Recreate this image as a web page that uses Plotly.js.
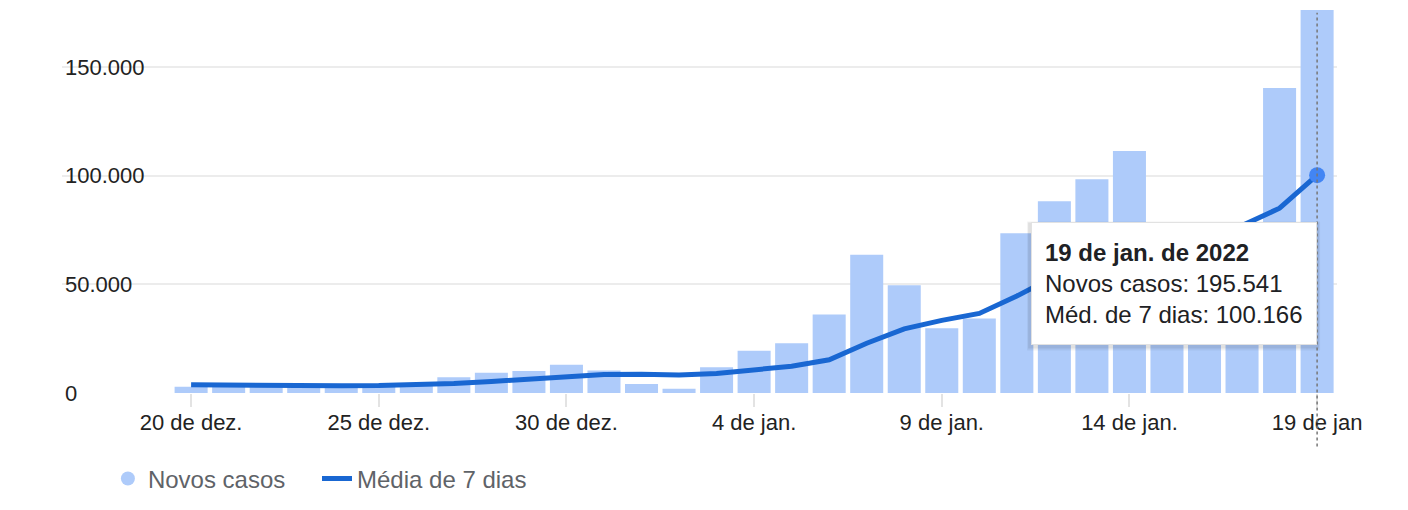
<!DOCTYPE html>
<html>
<head>
<meta charset="utf-8">
<script src="https://cdn.plot.ly/plotly-3.0.1.min.js"></script>
<style>
  html, body { margin: 0; padding: 0; background: #fff; }
  #chart { width: 1408px; height: 510px; }
</style>
</head>
<body>
<div id="chart"></div>
<script>
// ---- data ----
const dates = [
  '2021-12-20','2021-12-21','2021-12-22','2021-12-23','2021-12-24','2021-12-25','2021-12-26',
  '2021-12-27','2021-12-28','2021-12-29','2021-12-30','2021-12-31','2022-01-01','2022-01-02',
  '2022-01-03','2022-01-04','2022-01-05','2022-01-06','2022-01-07','2022-01-08','2022-01-09',
  '2022-01-10','2022-01-11','2022-01-12','2022-01-13','2022-01-14','2022-01-15','2022-01-16',
  '2022-01-17','2022-01-18','2022-01-19'
];
const newCases = [
  2900, 3300, 3400, 3300, 3200, 3100, 4600,
  7200, 9300, 10100, 13000, 10400, 4100, 2000,
  11800, 19400, 22900, 36100, 63600, 49500, 29800,
  34300, 73500, 88200, 98300, 111300, 70000, 45000,
  40700, 140300, 195541
];
const avg7 = [
  3800, 3600, 3500, 3400, 3300, 3400, 3700,
  4400, 5300, 6300, 7700, 8500, 8600, 8300,
  9000, 10500, 12300, 15300, 22900, 29500, 33400,
  36600, 44600, 53600, 62500, 69300, 72200, 74400,
  77000, 85000, 100166
];
const tickDates = ['2021-12-20','2021-12-25','2021-12-30','2022-01-04','2022-01-09','2022-01-14','2022-01-19'];
const tickLabels = ['20 de dez.','25 de dez.','30 de dez.','4 de jan.','9 de jan.','14 de jan.','19 de jan'];
const yTicks = [0, 50000, 100000, 150000];
const seriesNames = ['Novos casos', 'Média de 7 dias'];
const tooltipTitle = '19 de jan. de 2022';
const tooltipLabels = ['Novos casos', 'Méd. de 7 dias'];

// ---- helpers ----
const FONT = 'Arial, "Liberation Sans", Helvetica, sans-serif';
const AXIS_SIZE = 22;
const fmt = n => String(n).replace(/\B(?=(\d{3})+(?!\d))/g, '.');
const last = dates.length - 1;

function textWidth(txt, size) {
  const c = document.createElement('canvas').getContext('2d');
  c.font = size + 'px "Liberation Sans", Arial, sans-serif';
  return c.measureText(txt).width;
}

const BAR = '#aecbfa';
const LINE = '#1967d2';
const DOT = '#4285f4';

const traces = [
  {
    type: 'bar', x: dates, y: newCases, name: seriesNames[0],
    marker: { color: BAR }, showlegend: false, hoverinfo: 'skip'
  },
  {
    type: 'scatter', mode: 'markers', x: [null], y: [null], name: seriesNames[0],
    marker: { color: BAR, size: 14, symbol: 'circle' }, showlegend: true, hoverinfo: 'skip',
    legend: 'legend'
  },
  {
    type: 'scatter', mode: 'lines', x: dates, y: avg7, name: seriesNames[1],
    line: { color: LINE, width: 5 }, showlegend: true, hoverinfo: 'skip',
    legend: 'legend2'
  },
  {
    type: 'scatter', mode: 'markers', x: [dates[last]], y: [avg7[last]],
    marker: { color: DOT, size: 16 }, showlegend: false, hoverinfo: 'skip'
  }
];

// white boxes behind y tick labels so gridlines stop at the label
const labelShapes = yTicks.map(v => ({
  type: 'rect', layer: 'between',
  xref: 'paper', xsizemode: 'pixel', xanchor: 0, x0: 0, x1: 5 + textWidth(fmt(v), AXIS_SIZE) + 1,
  yref: 'y', ysizemode: 'pixel', yanchor: v, y0: -4, y1: 4,
  fillcolor: '#ffffff', line: { width: 0 }
}));

// soft shadow under the tooltip box
const TIP_TOP = 0.4453;
const shadowShapes = [
  { dx0: -290, dx1: 3, dy0: -128, dy1: 1, a: 0.05 },
  { dx0: -289, dx1: 2, dy0: -126, dy1: 0, a: 0.07 }
].map(s => ({
  type: 'rect', layer: 'above',
  xref: 'x', xsizemode: 'pixel', xanchor: dates[last], x0: s.dx0, x1: s.dx1,
  yref: 'paper', ysizemode: 'pixel', yanchor: TIP_TOP, y0: s.dy0, y1: s.dy1,
  fillcolor: 'rgba(0,0,0,' + s.a + ')', line: { width: 0 }
}));

const legendBase = {
  orientation: 'h',
  xanchor: 'left',
  y: -0.221, yanchor: 'middle',
  font: { family: FONT, size: 24, color: '#5f6368' },
  bgcolor: 'rgba(0,0,0,0)',
  itemclick: false, itemdoubleclick: false
};

const layout = {
  width: 1408, height: 510,
  margin: { l: 62, r: 71, t: 10, b: 116 },
  paper_bgcolor: '#ffffff', plot_bgcolor: '#ffffff',
  font: { family: FONT, size: AXIS_SIZE, color: '#222222' },
  separators: ',.',
  bargap: 0.12,
  hovermode: false,
  showlegend: true,
  xaxis: {
    type: 'category',
    range: [-3.44, last + 0.53],
    tickmode: 'array', tickvals: tickDates, ticktext: tickLabels,
    ticks: 'outside', ticklen: 13, tickwidth: 2, tickcolor: '#e3e3e3',
    ticklabelstandoff: -3,
    showgrid: false, showline: false, zeroline: false,
    tickfont: { family: FONT, size: AXIS_SIZE, color: '#222222' },
    ticklabeloverflow: 'allow',
    fixedrange: true
  },
  yaxis: {
    range: [0, 176150],
    tickmode: 'array', tickvals: yTicks, ticktext: yTicks.map(fmt),
    ticklabelposition: 'inside',
    ticklabeloverflow: 'allow',
    ticks: '',
    showgrid: true, gridcolor: '#ececec', gridwidth: 2,
    zeroline: false, showline: false,
    tickfont: { family: FONT, size: AXIS_SIZE, color: '#222222' },
    fixedrange: true
  },
  legend: Object.assign({}, legendBase, { x: 0.036 }),
  legend2: Object.assign({}, legendBase, { x: 0.2 }),
  shapes: labelShapes.concat(shadowShapes, [
    {
      type: 'line', layer: 'above',
      xref: 'x', x0: dates[last], x1: dates[last],
      yref: 'paper', y0: -0.14, y1: 0.993,
      line: { color: '#777777', width: 1.5, dash: 'dot' }
    }
  ]),
  annotations: [
    {
      xref: 'x', x: dates[last], xanchor: 'right',
      yref: 'paper', y: TIP_TOP, yanchor: 'top',
      showarrow: false, align: 'left', valign: 'middle',
      width: 258, height: 95, borderpad: 13,
      bgcolor: '#ffffff', bordercolor: '#e2e2e2', borderwidth: 1,
      font: { family: FONT, size: 24, color: '#202124' },
      text: '<b>' + tooltipTitle + '</b><br>' +
            tooltipLabels[0] + ': ' + fmt(newCases[last]) + '<br>' +
            tooltipLabels[1] + ': ' + fmt(avg7[last])
    }
  ]
};

Plotly.newPlot('chart', traces, layout, { displayModeBar: false, staticPlot: true });
</script>
</body>
</html>
